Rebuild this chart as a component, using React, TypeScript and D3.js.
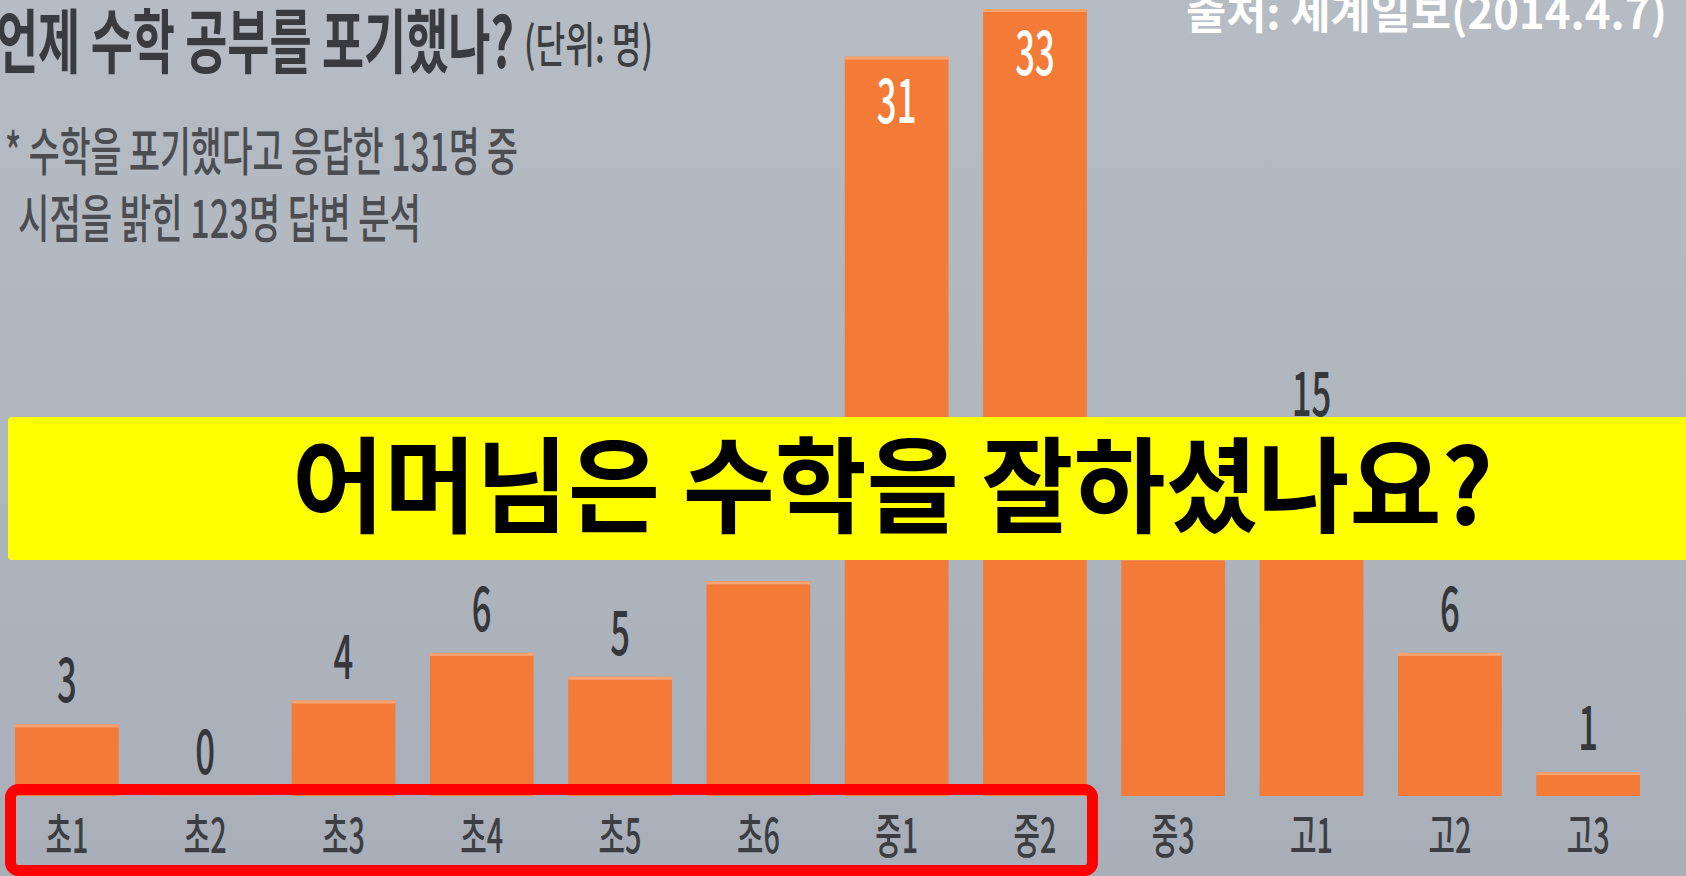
import React from 'react';
import * as d3 from 'd3';

// grade at which students gave up on math (unit: persons)
const grades = ['초1', '초2', '초3', '초4', '초5', '초6', '중1', '중2', '중3', '고1', '고2', '고3'];
const counts = [3, 0, 4, 6, 5, 9, 31, 33, 10, 15, 6, 1];

const title = '언제 수학 공부를 포기했나?';
const unitLabel = '(단위: 명)';
const noteLines = ['* 수학을 포기했다고 응답한 131명 중', '시점을 밝힌 123명 답변 분석'];
const sourceLabel = '출처:  세계일보(2014.4.7)';
const bannerText = '어머님은 수학을 잘하셨나요?';

const W = 1686;
const H = 876;
const FONT = '"Noto Sans CJK KR", "Noto Sans", sans-serif';

export default function App() {
  const x = d3.scaleBand<string>()
    .domain(grades)
    .range([15, 1640])
    .paddingInner(0.25)
    .paddingOuter(0);

  const y = d3.scaleLinear()
    .domain([0, 33])
    .range([796, 9]);

  const bars = grades.map((g, i) => ({ g, v: counts[i] }));

  return (
    <svg width={W} height={H} style={{ position: 'fixed', left: 0, top: 0, display: 'block' }}>
      <defs>
        <linearGradient id="bg" x1="0" y1="0" x2="0" y2="1">
          <stop offset="0" stopColor="#b5bcc3" />
          <stop offset="1" stopColor="#a8afb8" />
        </linearGradient>
      </defs>
      <rect width={W} height={H} fill="url(#bg)" />

      {/* bars */}
      {bars.map(d => (
        <g key={d.g}>
          <rect
            x={x(d.g)}
            y={y(d.v)}
            width={x.bandwidth()}
            height={Math.max(y(0) - y(d.v), 0)}
            fill="#f37a37"
          />
          {d.v > 0 && (
            <rect x={x(d.g)} y={y(d.v)} width={x.bandwidth()} height={3} fill="#f6a273" />
          )}
          {d.v === 0 && (
            <rect x={x(d.g)} y={y(0) - 2} width={x.bandwidth()} height={2} fill="#e9a27c" opacity={0.6} />
          )}
        </g>
      ))}

      {/* value labels */}
      {bars.map(d => {
        const inside = d.v > 20;
        const cx = (x(d.g) as number) + x.bandwidth() / 2;
        const by = inside ? y(d.v) + 66 : y(d.v) - 22;
        return (
          <text
            key={'v' + d.g}
            transform={`translate(${cx},${by}) scale(0.56,1)`}
            textAnchor="middle"
            fontFamily={FONT}
            fontSize={62}
            fontWeight={500}
            fill={inside ? '#ffffff' : '#34373b'}
          >
            {d.v}
          </text>
        );
      })}

      {/* category labels */}
      {bars.map(d => {
        const cx = (x(d.g) as number) + x.bandwidth() / 2;
        return (
          <text
            key={'c' + d.g}
            transform={`translate(${cx},853) scale(0.6,1)`}
            textAnchor="middle"
            fontFamily={FONT}
            fontSize={48}
            fontWeight={500}
            fill="#3b3e43"
          >
            {d.g}
          </text>
        );
      })}

      {/* title and notes */}
      <text x={-4} y={68} fontFamily={FONT} fontSize={70} fontWeight={700} fill="#383b3f"
        textLength={518} lengthAdjust="spacingAndGlyphs">{title}</text>
      <text x={524} y={62} fontFamily={FONT} fontSize={48} fontWeight={500} fill="#3c3f43"
        textLength={129} lengthAdjust="spacingAndGlyphs">{unitLabel}</text>
      {noteLines.map((line, i) => (
        <text key={line} x={i === 0 ? 5 : 18} y={171 + i * 67} fontFamily={FONT} fontSize={52} fontWeight={500}
          fill="#4a4d52" textLength={i === 0 ? 513 : 403} lengthAdjust="spacingAndGlyphs">{line}</text>
      ))}

      {/* source */}
      <text x={1186} y={29} fontFamily={FONT} fontSize={44} fontWeight={700} fill="#ffffff"
        textLength={481} lengthAdjust="spacingAndGlyphs">{sourceLabel}</text>

      {/* yellow banner */}
      <rect x={8} y={417} width={W} height={143} rx={4} fill="#ffff00" />
      <text x={292} y={525} fontFamily={FONT} fontSize={104} fontWeight={700} fill="#000000"
        textLength={1201} lengthAdjust="spacingAndGlyphs">{bannerText}</text>

      {/* red highlight box */}
      <rect x={10.5} y={789.5} width={1082} height={81} rx={8} fill="none" stroke="#ff0000" strokeWidth={11} />
    </svg>
  );
}
